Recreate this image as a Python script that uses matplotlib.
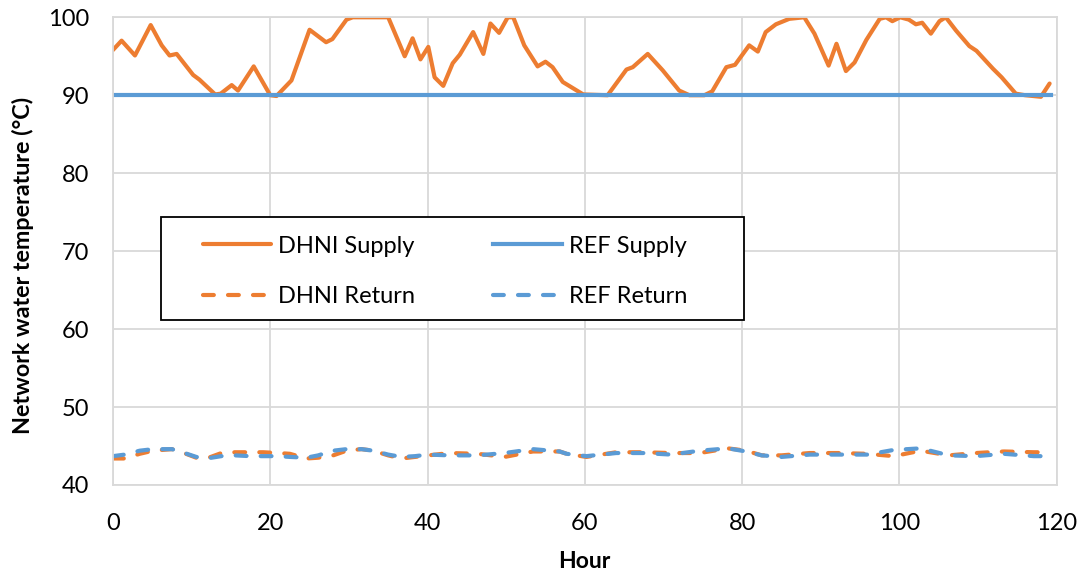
import numpy as np
import matplotlib
matplotlib.use('Agg')
from matplotlib import pyplot as plt
from matplotlib.patches import Rectangle

# values
dhni_supply_hour = [0, 1.1, 2.8, 4.8, 6.2, 7.2, 8.1, 10.2, 11, 13, 13.7, 15.1, 15.9, 17.9, 20,
                    20.8, 22.7, 25, 27.1, 27.9, 29.7, 30.5, 35, 37.1, 38.1, 39.1, 40.1, 40.9,
                    42, 43.2, 44.1, 45.8, 47.1, 48, 49.1, 50.2, 50.9, 52.3, 54, 55, 55.9, 57.2,
                    59.8, 62.9, 65.3, 66.1, 68, 69.9, 72, 73.3, 75.2, 76.2, 78, 79.1, 80.9,
                    82, 83, 84.3, 86, 87.9, 89.2, 91, 92, 93.2, 94.3, 95.8, 97.5, 98.3, 99.1,
                    100.1, 101.2, 102.1, 102.9, 104, 105.1, 105.9, 107.2, 108.9, 109.8, 111.9,
                    113, 114.8, 116, 118, 119.1]
dhni_supply = [95.8, 97.0, 95.1, 99.0, 96.4, 95.1, 95.3, 92.6, 92.0, 90.1, 90.2, 91.3, 90.6, 93.7,
               90.0, 89.9, 91.9, 98.4, 96.8, 97.2, 99.7, 100, 100, 95.0, 97.3, 94.6, 96.2, 92.3,
               91.2, 94.1, 95.2, 98.1, 95.3, 99.2, 98.0, 100, 100, 96.4, 93.7, 94.3, 93.6, 91.7,
               90.1, 90.0, 93.3, 93.6, 95.3, 93.2, 90.6, 90.0, 90.0, 90.5, 93.6, 93.9, 96.4,
               95.6, 98.1, 99.1, 99.8, 100, 97.9, 93.8, 96.6, 93.1, 94.2, 97.1, 99.8, 100, 99.5,
               100, 99.7, 99.1, 99.3, 97.9, 99.5, 100, 98.3, 96.3, 95.7, 93.4,
               92.3, 90.2, 90.0, 89.8, 91.5]

ref_supply_hour = [0, 119.3]
ref_supply = [90, 90]

return_hour = [0, 1.5, 3.4, 5.1, 7.5, 8.5, 10.6, 11.9, 13.8, 15.5, 17.4, 19.1, 21.0, 22.5, 24.6,
               26.1, 28.0, 29.7, 31.6, 33.1, 35.0, 36.7, 38.4, 40.1, 42.8, 46.4, 49.8, 53.4,
               56.8, 57.7, 60.2, 64.0, 67.4, 71.0, 74.6, 78.2, 80.5, 82.5, 85.0, 88.6, 92.2,
               95.9, 99.3, 102.7, 106.3, 109.7, 113.3, 117.1, 118.1]
dhni_return = [43.4, 43.4, 44.0, 44.4, 44.6, 44.3, 43.5, 43.4, 44.1, 44.2, 44.2, 44.2, 44.1, 44.0,
               43.4, 43.5, 43.8, 44.4, 44.6, 44.4, 43.8, 43.4, 43.6, 43.8, 44.1, 44.0, 43.6, 44.3,
               44.3, 44.0, 43.6, 44.2, 44.2, 44.1, 44.1, 44.7, 44.4, 43.8, 43.8, 44.1, 44.1,
               44.0, 43.7, 44.4, 43.8, 44.1, 44.3, 44.2, 44.2]
ref_return = [43.7, 43.9, 44.4, 44.6, 44.6, 44.3, 43.6, 43.4, 43.7, 43.8, 43.7, 43.7, 43.7, 43.6,
              43.5, 43.8, 44.4, 44.6, 44.6, 44.4, 43.9, 43.6, 43.7, 43.9, 43.8, 43.8, 44.1, 44.6,
              44.3, 44.0, 43.7, 44.1, 44.1, 43.9, 44.4, 44.7, 44.3, 43.8, 43.6, 43.9, 43.9,
              43.9, 44.5, 44.7, 43.8, 43.7, 44.0, 43.7, 43.7]

orange = '#ED7D31'
blue = '#5B9BD5'
grid_c = '#d9d9d9'

plt.rcParams['font.family'] = ['Lato', 'DejaVu Sans']

fig = plt.figure(figsize=(10.86, 5.76), dpi=100)
ax = fig.add_axes([0.104, 0.158, 0.869, 0.812])

lw = 3.0
dash = (2.6, 3.4)
ax.plot(dhni_supply_hour, dhni_supply, color=orange, lw=lw, label='DHNI Supply',
        solid_joinstyle='round', solid_capstyle='round')
ax.plot(return_hour, dhni_return, color=orange, lw=lw, dashes=dash, label='DHNI Return',
        dash_capstyle='round')
ax.plot(ref_supply_hour, ref_supply, color=blue, lw=lw, label='REF Supply')
ax.plot(return_hour, ref_return, color=blue, lw=lw, dashes=dash, label='REF Return',
        dash_capstyle='round')

ax.set_xlim(0, 120)
ax.set_ylim(40, 100)
ax.set_xticks(np.arange(0, 121, 20))
ax.set_yticks(np.arange(40, 101, 10))
ax.grid(True, color=grid_c, lw=1.3)
ax.set_axisbelow(True)
for s in ax.spines.values():
    s.set_color(grid_c)
    s.set_linewidth(1.3)
ax.tick_params(axis='x', length=0, labelsize=17, pad=20, colors='black')
ax.tick_params(axis='y', length=0, labelsize=17, pad=17, colors='black')

ax.set_xlabel('Hour', fontsize=16.5, fontweight='bold')
ax.set_ylabel('Network water temperature (°C)', fontsize=16.8, fontweight='bold')
ax.xaxis.set_label_coords(0.5, -0.142)
ax.yaxis.set_label_coords(-0.084, 0.47)

# legend box (Excel style, black square frame)
ax.add_patch(Rectangle((0.051, 0.353), 0.618, 0.22, transform=ax.transAxes, fill=True,
                       facecolor='white', edgecolor='black', lw=1.3, zorder=5))
leg = ax.legend(loc='upper left', bbox_to_anchor=(0.0953, 0.533), ncol=2, fontsize=17,
                frameon=False, handlelength=2.9, borderpad=0, borderaxespad=0,
                labelspacing=1.25, handletextpad=0.3, columnspacing=3.3)
leg.set_zorder(6)

fig.savefig('out.png', dpi=100)
